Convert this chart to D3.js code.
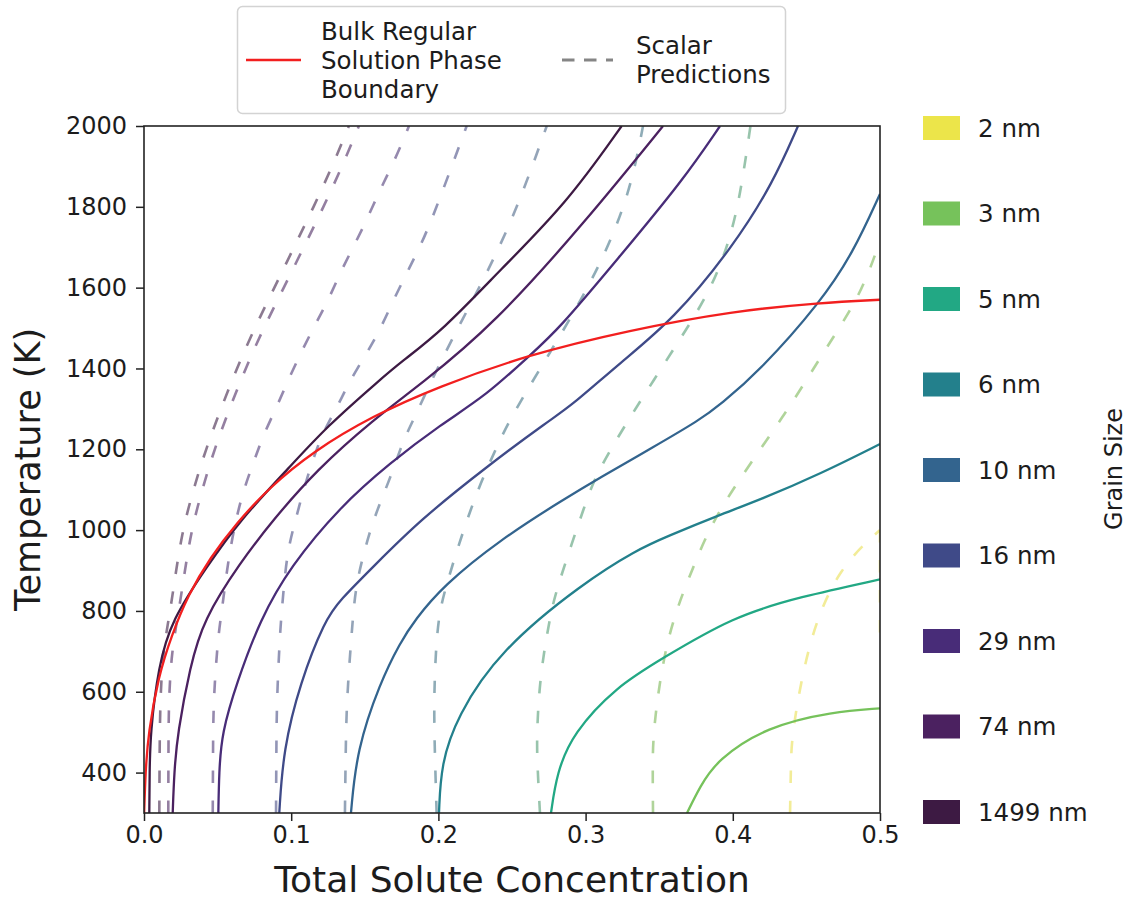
<!DOCTYPE html>
<html>
<head>
<meta charset="utf-8">
<script src="https://cdn.jsdelivr.net/npm/d3@7"></script>
<style>
  body { margin: 0; background: #fff; }
  svg { display: block; }
  text { font-family: "DejaVu Sans", sans-serif; fill: #1c1c1c; }
</style>
</head>
<body>
<svg id="chart" width="1128" height="899"></svg>
<script>
// ---- tick values ----
const xTicks = [0.0, 0.1, 0.2, 0.3, 0.4, 0.5];
const yTicks = [400, 600, 800, 1000, 1200, 1400, 1600, 1800, 2000];

// ---- grain sizes (legend order, top to bottom) ----
const grainSizes = ["2 nm", "3 nm", "5 nm", "6 nm", "10 nm", "16 nm", "29 nm", "74 nm", "1499 nm"];
const grainColors = ["#ece54a", "#76c25b", "#22a884", "#23808c", "#33648e", "#3f4a88", "#482c78", "#4b2160", "#3d1a43"];
// stroke colours of the (translucent) scalar prediction curves
const scalarColors = ["#e9df54", "#7cb757", "#539d75", "#447587", "#4d6889", "#4a4f86", "#4f3a78", "#4d2a62", "#3f2247"];

// ---- bulk regular solution phase boundary: [concentration, temperature K] ----
const bulkBoundary = [
  [0.0001, 300], [0.0010, 400], [0.0029, 498], [0.0097, 637], [0.0188, 740], [0.030, 840],
  [0.045, 932], [0.063, 1018], [0.085, 1105], [0.115, 1195], [0.155, 1282], [0.200, 1355],
  [0.260, 1433], [0.330, 1495], [0.400, 1542], [0.460, 1563], [0.500, 1570]
];

// ---- full model boundaries per grain size ----
const model1499nm = [
  [0.0036, 300], [0.0038, 400], [0.0043, 498], [0.0097, 662], [0.0188, 778], [0.0426, 909],
  [0.0652, 1025], [0.0992, 1157], [0.1241, 1256], [0.1603, 1372], [0.1739, 1414], [0.2031, 1495],
  [0.2418, 1643], [0.2872, 1809], [0.3245, 2000]
];
const model74nm = [
  [0.0195, 300], [0.0205, 400], [0.0228, 498], [0.0313, 662], [0.0403, 778], [0.0652, 919],
  [0.0876, 1025], [0.1173, 1149], [0.1556, 1273], [0.1875, 1359], [0.2380, 1510], [0.3007, 1767],
  [0.3526, 2000]
];
const model29nm = [
  [0.0505, 300], [0.0510, 400], [0.0528, 498], [0.0630, 622], [0.0788, 778], [0.0992, 909],
  [0.1332, 1058], [0.1671, 1166], [0.2011, 1260], [0.2328, 1334], [0.2622, 1433], [0.2812, 1495],
  [0.3211, 1668], [0.3662, 1866], [0.3913, 2000]
];
const model16nm = [
  [0.0919, 300], [0.0946, 456], [0.1060, 622], [0.1230, 778], [0.1332, 827], [0.1556, 909],
  [0.1875, 1025], [0.2328, 1157], [0.2758, 1273], [0.2894, 1305], [0.3234, 1414], [0.3594, 1520],
  [0.4001, 1701], [0.4273, 1859], [0.4443, 2000]
];
const model10nm = [
  [0.1406, 300], [0.1445, 456], [0.1603, 622], [0.1739, 721], [0.1841, 778], [0.2031, 862],
  [0.2418, 976], [0.2846, 1075], [0.3098, 1130], [0.3458, 1205], [0.3777, 1273], [0.3913, 1310],
  [0.4185, 1395], [0.4592, 1562], [0.4817, 1686], [0.5000, 1832]
];
const model6nm = [
  [0.2004, 300], [0.2018, 420], [0.2124, 538], [0.2418, 703], [0.2982, 869], [0.3347, 951],
  [0.3551, 984], [0.3913, 1038], [0.4185, 1075], [0.4600, 1140], [0.5000, 1213]
];
const model5nm = [
  [0.2765, 300], [0.2804, 399], [0.2914, 498], [0.3211, 613], [0.3505, 679], [0.4001, 786],
  [0.4457, 835], [0.5000, 878]
];
const model3nm = [
  [0.3689, 300], [0.3777, 365], [0.3891, 431], [0.4230, 514], [0.4681, 551], [0.5000, 559]
];

// ---- scalar predictions per grain size ----
const scalar1499nm = [
  [0.0104, 300], [0.0106, 450], [0.0110, 580], [0.0129, 700], [0.0178, 800], [0.0218, 900],
  [0.0262, 1000], [0.0335, 1100], [0.0420, 1200], [0.0522, 1300], [0.0630, 1400], [0.0751, 1500],
  [0.0886, 1600], [0.1019, 1700], [0.1153, 1800], [0.1279, 1900], [0.1392, 2000]
];
const scalar74nm = [
  [0.0165, 300], [0.0166, 450], [0.0168, 580], [0.0188, 700], [0.0236, 800], [0.0278, 900],
  [0.0322, 1000], [0.0395, 1100], [0.0478, 1200], [0.0580, 1300], [0.0690, 1400], [0.0812, 1500],
  [0.0950, 1600], [0.1085, 1700], [0.1220, 1800], [0.1346, 1900], [0.1460, 2000]
];
const scalar29nm = [
  [0.0467, 300], [0.0469, 450], [0.0471, 580], [0.0505, 745], [0.0528, 795], [0.0573, 934],
  [0.0652, 1075], [0.0743, 1166], [0.0810, 1235], [0.0902, 1305], [0.0980, 1372], [0.1065, 1438],
  [0.1155, 1503], [0.1252, 1569], [0.1332, 1636], [0.1422, 1701], [0.1513, 1767], [0.1603, 1842],
  [0.1694, 1908], [0.1785, 1986], [0.1800, 2000]
];
const scalar16nm = [
  [0.0897, 300], [0.0899, 450], [0.0902, 580], [0.0924, 745], [0.0935, 795], [0.0969, 943],
  [0.1030, 1025], [0.1082, 1099], [0.1196, 1231], [0.1309, 1301], [0.1388, 1363], [0.1513, 1438],
  [0.1603, 1495], [0.1694, 1569], [0.1785, 1636], [0.1875, 1701], [0.1965, 1776], [0.2192, 2000]
];
const scalar10nm = [
  [0.1365, 300], [0.1370, 450], [0.1377, 580], [0.1411, 745], [0.1422, 795], [0.1445, 877],
  [0.1535, 1000], [0.1603, 1067], [0.1694, 1149], [0.1762, 1223], [0.1853, 1290], [0.1943, 1363],
  [0.2124, 1495], [0.2260, 1587], [0.2507, 1767], [0.2736, 2000]
];
const scalar6nm = [
  [0.1988, 300], [0.1978, 420], [0.1970, 540], [0.1975, 650], [0.1997, 785], [0.2056, 869],
  [0.2235, 1075], [0.2396, 1206], [0.2507, 1290], [0.2826, 1479], [0.3098, 1652], [0.3302, 1834],
  [0.3390, 2000]
];
const scalar5nm = [
  [0.2690, 300], [0.2672, 420], [0.2668, 498], [0.2690, 640], [0.2758, 786], [0.2804, 857],
  [0.3007, 1075], [0.3075, 1141], [0.3302, 1281], [0.3630, 1465], [0.3865, 1602], [0.4001, 1742],
  [0.4066, 1866], [0.4120, 2000]
];
const scalar3nm = [
  [0.3458, 300], [0.3455, 420], [0.3460, 514], [0.3551, 745], [0.3732, 909], [0.3891, 1050],
  [0.4366, 1290], [0.4638, 1454], [0.4864, 1578], [0.4990, 1705]
];
const scalar2nm = [
  [0.4389, 300], [0.4395, 420], [0.4400, 498], [0.4524, 745], [0.4728, 909], [0.4977, 993],
  [0.5000, 1000]
];
const scalar2nmEdge = [[0.5000, 1000], [0.5000, 740]];

// grain size -> series
const modelSeries = [
  { size: "3 nm", data: model3nm }, { size: "5 nm", data: model5nm }, { size: "6 nm", data: model6nm },
  { size: "10 nm", data: model10nm }, { size: "16 nm", data: model16nm }, { size: "29 nm", data: model29nm },
  { size: "74 nm", data: model74nm }, { size: "1499 nm", data: model1499nm }
];
const scalarSeries = [
  { size: "2 nm", data: scalar2nm }, { size: "2 nm", data: scalar2nmEdge, straight: true },
  { size: "3 nm", data: scalar3nm }, { size: "5 nm", data: scalar5nm }, { size: "6 nm", data: scalar6nm },
  { size: "10 nm", data: scalar10nm }, { size: "16 nm", data: scalar16nm }, { size: "29 nm", data: scalar29nm },
  { size: "74 nm", data: scalar74nm }, { size: "1499 nm", data: scalar1499nm }
];

// ---- layout ----
const plot = { left: 144, right: 880, top: 126, bottom: 813 };
const svg = d3.select("#chart");

const x = d3.scaleLinear().domain([0, 0.5]).range([plot.left, plot.right]);
const y = d3.scaleLinear().domain([300, 2000]).range([plot.bottom, plot.top]);
const color = d3.scaleOrdinal().domain(grainSizes).range(grainColors);
const scalarColor = d3.scaleOrdinal().domain(grainSizes).range(scalarColors);

svg.append("defs").append("clipPath").attr("id", "plot-clip")
  .append("rect")
  .attr("x", plot.left).attr("y", plot.top)
  .attr("width", plot.right - plot.left).attr("height", plot.bottom - plot.top);

// smooth B-spline through the sampled boundary points
const line = d3.line()
  .x(d => x(d[0]))
  .y(d => y(d[1]))
  .curve(d3.curveBasis);
const straight = d3.line().x(d => x(d[0])).y(d => y(d[1]));

const curves = svg.append("g").attr("clip-path", "url(#plot-clip)");

// scalar predictions (dashed, translucent)
curves.selectAll("path.scalar")
  .data(scalarSeries)
  .join("path")
  .attr("class", "scalar")
  .attr("d", d => d.straight ? straight(d.data) : line(d.data))
  .attr("fill", "none")
  .attr("stroke", d => scalarColor(d.size))
  .attr("stroke-opacity", 0.6)
  .attr("stroke-width", 2.6)
  .attr("stroke-dasharray", "12.5,17.5");

// full model boundaries (solid)
curves.selectAll("path.model")
  .data(modelSeries)
  .join("path")
  .attr("class", "model")
  .attr("d", d => line(d.data))
  .attr("fill", "none")
  .attr("stroke", d => color(d.size))
  .attr("stroke-width", 2.3);

// bulk regular solution boundary
curves.append("path")
  .attr("d", line(bulkBoundary))
  .attr("fill", "none")
  .attr("stroke", "#f21f1f")
  .attr("stroke-width", 2.3);

// ---- axes ----
const xAxis = svg.append("g")
  .attr("transform", `translate(0,${plot.bottom})`)
  .call(d3.axisBottom(x).tickValues(xTicks).tickFormat(d3.format(".1f"))
    .tickSize(8).tickSizeOuter(0).tickPadding(5));
const yAxis = svg.append("g")
  .attr("transform", `translate(${plot.left},0)`)
  .call(d3.axisLeft(y).tickValues(yTicks).tickFormat(d3.format("d"))
    .tickSize(8).tickSizeOuter(0).tickPadding(9));

[xAxis, yAxis].forEach(g => {
  g.select(".domain").remove();
  g.selectAll(".tick line").attr("stroke", "#222").attr("stroke-width", 1.5);
  g.selectAll(".tick text")
    .attr("font-family", "DejaVu Sans")
    .attr("font-size", 24)
    .attr("fill", "#1c1c1c");
});

// plot frame
svg.append("rect")
  .attr("x", plot.left).attr("y", plot.top)
  .attr("width", plot.right - plot.left).attr("height", plot.bottom - plot.top)
  .attr("fill", "none").attr("stroke", "#222").attr("stroke-width", 1.6);

// axis titles
svg.append("text")
  .attr("x", (plot.left + plot.right) / 2).attr("y", 892)
  .attr("text-anchor", "middle")
  .attr("font-size", 36)
  .text("Total Solute Concentration");

svg.append("text")
  .attr("transform", `translate(40,${(plot.top + plot.bottom) / 2}) rotate(-90)`)
  .attr("text-anchor", "middle")
  .attr("font-size", 35)
  .text("Temperature (K)");

// ---- top legend ----
const topLegend = svg.append("g");
topLegend.append("rect")
  .attr("x", 237.5).attr("y", 6.5).attr("width", 548).attr("height", 107).attr("rx", 5)
  .attr("fill", "#fff").attr("stroke", "#d3d3d3").attr("stroke-width", 1.5);
topLegend.append("line")
  .attr("x1", 246).attr("x2", 301).attr("y1", 60).attr("y2", 60)
  .attr("stroke", "#f21f1f").attr("stroke-width", 2.6);
topLegend.append("text")
  .attr("x", 321).attr("y", 40).attr("font-size", 24.5)
  .selectAll("tspan")
  .data(["Bulk Regular", "Solution Phase", "Boundary"])
  .join("tspan")
  .attr("x", 321).attr("dy", (d, i) => i === 0 ? 0 : 29)
  .text(d => d);
topLegend.append("line")
  .attr("x1", 562).attr("x2", 613).attr("y1", 60).attr("y2", 60)
  .attr("stroke", "#858585").attr("stroke-width", 2.8)
  .attr("stroke-dasharray", "12.5,9.5");
topLegend.append("text")
  .attr("x", 636).attr("y", 54).attr("font-size", 24.5)
  .selectAll("tspan")
  .data(["Scalar", "Predictions"])
  .join("tspan")
  .attr("x", 636).attr("dy", (d, i) => i === 0 ? 0 : 29)
  .text(d => d);

// ---- grain size legend ----
const sideLegend = svg.append("g");
const rowY = d3.scalePoint().domain(grainSizes).range([128, 812]);
const rows = sideLegend.selectAll("g.row")
  .data(grainSizes)
  .join("g")
  .attr("class", "row")
  .attr("transform", d => `translate(0,${rowY(d)})`);
rows.append("rect")
  .attr("x", 923).attr("y", -12).attr("width", 37).attr("height", 24)
  .attr("fill", d => color(d));
rows.append("text")
  .attr("x", 978).attr("y", 8.8)
  .attr("font-size", 24.5)
  .text(d => d);

svg.append("text")
  .attr("transform", "translate(1122,469) rotate(-90)")
  .attr("text-anchor", "middle")
  .attr("font-size", 24)
  .text("Grain Size");
</script>
</body>
</html>
